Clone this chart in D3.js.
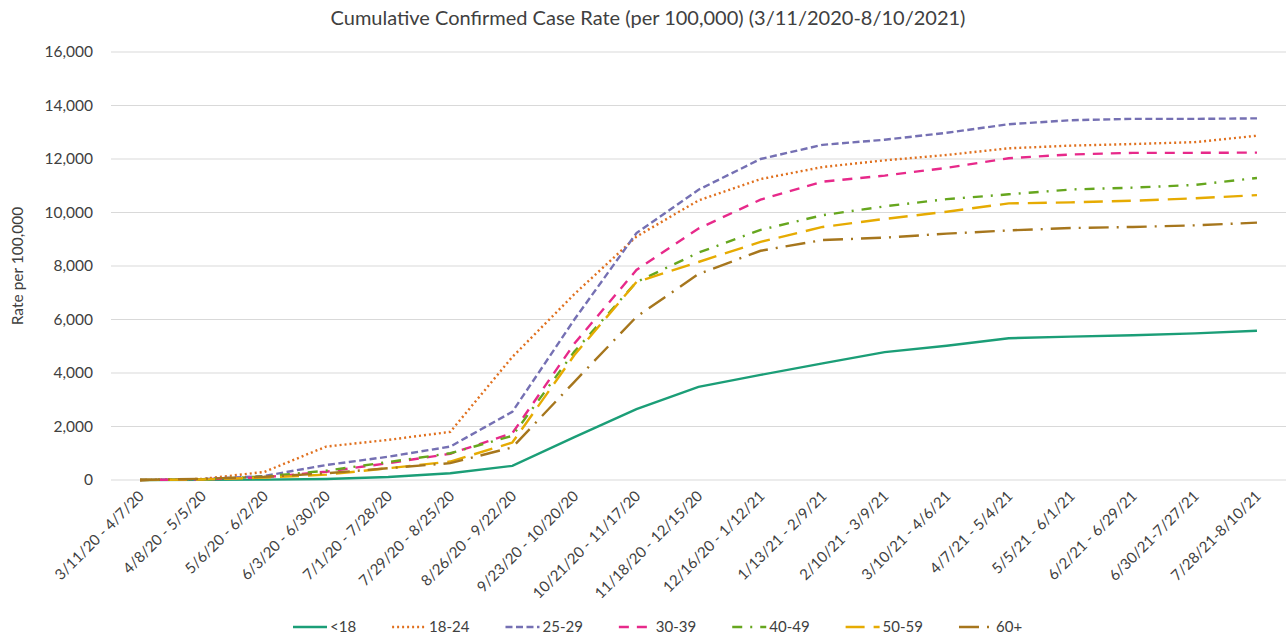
<!DOCTYPE html>
<html>
<head>
<meta charset="utf-8">
<script src="https://cdn.jsdelivr.net/npm/d3@7"></script>
<style>
  body { margin: 0; background: #fff; }
  text { font-family: Lato, "Open Sans", sans-serif; }
</style>
</head>
<body>
<div id="chart"></div>
<script>
// categories (4-week periods)
var periods = ["3/11/20 - 4/7/20", "4/8/20 - 5/5/20", "5/6/20 - 6/2/20", "6/3/20 - 6/30/20",
  "7/1/20 - 7/28/20", "7/29/20 - 8/25/20", "8/26/20 - 9/22/20", "9/23/20 - 10/20/20",
  "10/21/20 - 11/17/20", "11/18/20 - 12/15/20", "12/16/20 - 1/12/21", "1/13/21 - 2/9/21",
  "2/10/21 - 3/9/21", "3/10/21 - 4/6/21", "4/7/21 - 5/4/21", "5/5/21 - 6/1/21",
  "6/2/21 - 6/29/21", "6/30/21-7/27/21", "7/28/21-8/10/21"];

// cumulative rate per 100,000, one array per age group
var under18 = [0, 5, 15, 40, 110, 250, 530, 1600, 2650, 3480, 3930, 4360, 4780, 5020, 5300, 5360, 5410, 5480, 5580];
var age1824 = [0, 40, 300, 1250, 1500, 1800, 4600, 6950, 9100, 10450, 11250, 11700, 11950, 12150, 12400, 12500, 12560, 12630, 12870];
var age2529 = [0, 30, 150, 560, 870, 1250, 2550, 6000, 9230, 10850, 12000, 12530, 12720, 12980, 13300, 13450, 13500, 13500, 13520];
var age3039 = [0, 25, 100, 310, 630, 980, 1750, 5100, 7850, 9400, 10480, 11150, 11380, 11670, 12030, 12170, 12230, 12230, 12240];
var age4049 = [0, 25, 130, 350, 670, 1000, 1650, 4800, 7400, 8500, 9350, 9900, 10230, 10500, 10680, 10860, 10930, 11030, 11290];
var age5059 = [0, 20, 90, 200, 440, 690, 1400, 4670, 7400, 8150, 8900, 9460, 9760, 10030, 10340, 10380, 10440, 10530, 10650];
var age60 = [0, 45, 120, 250, 440, 630, 1220, 3670, 6100, 7700, 8570, 8970, 9060, 9210, 9330, 9420, 9460, 9520, 9620];

var groupNames = ["<18", "18-24", "25-29", "30-39", "40-49", "50-59", "60+"];
var yTicks = [0, 2000, 4000, 6000, 8000, 10000, 12000, 14000, 16000];

var series = [under18, age1824, age2529, age3039, age4049, age5059, age60].map(function(v, i) {
  return {name: groupNames[i], values: v};
});

var colors = ["#1b9e77", "#e0701e", "#7570b3", "#e7298a", "#66a61e", "#e6ab02", "#a6761d"];
var dashes = ["none", "2 3", "7 3.5", "10 8", "10 8 2 8", "19 9", "20 8 2 8"];

var W = 1286, H = 635;
var svg = d3.select("#chart").append("svg")
  .attr("width", W).attr("height", H);

var x = d3.scaleBand().domain(periods).range([109, 1288]);
var y = d3.scaleLinear().domain([0, 16000]).range([480, 52]);
var cx = function(p) { return x(p) + x.bandwidth() / 2; };

// title
svg.append("text")
  .attr("x", 648).attr("y", 25)
  .attr("text-anchor", "middle")
  .style("font-size", "20px").style("fill", "#404040")
  .text("Cumulative Confirmed Case Rate (per 100,000) (3/11/2020-8/10/2021)");

// gridlines
svg.append("g").selectAll("line")
  .data(yTicks).enter().append("line")
  .attr("x1", 111).attr("x2", 1286)
  .attr("y1", function(d) { return y(d); })
  .attr("y2", function(d) { return y(d); })
  .style("stroke", "#d9d9d9").style("stroke-width", 1);

// y axis labels
var yAxis = svg.append("g")
  .attr("transform", "translate(96,0)")
  .call(d3.axisLeft(y).tickValues(yTicks).tickSize(0).tickFormat(d3.format(",")));
yAxis.select(".domain").remove();
yAxis.selectAll("text")
  .style("font-size", "15.5px").style("fill", "#404040")
  .style("font-family", "Lato, sans-serif");

svg.append("text")
  .attr("transform", "translate(23,266) rotate(-90)")
  .attr("text-anchor", "middle")
  .style("font-size", "15.5px").style("fill", "#404040")
  .text("Rate per 100,000");

// x axis labels
var xAxis = svg.append("g")
  .attr("transform", "translate(0,480)")
  .call(d3.axisBottom(x).tickSize(0));
xAxis.select(".domain").remove();
xAxis.selectAll("text")
  .attr("text-anchor", "end")
  .attr("dy", null)
  .attr("y", 0)
  .attr("transform", "translate(5,17) rotate(-45)")
  .style("font-size", "15px").style("fill", "#404040")
  .style("font-family", "Lato, sans-serif");

// lines
var line = d3.line()
  .x(function(d, i) { return cx(periods[i]); })
  .y(function(d) { return y(d); });

svg.append("g").selectAll("path")
  .data(series).enter().append("path")
  .attr("d", function(d) { return line(d.values); })
  .style("fill", "none")
  .style("stroke", function(d, i) { return colors[i]; })
  .style("stroke-width", 2.4)
  .style("stroke-dasharray", function(d, i) { return dashes[i]; });

// legend
var legend = svg.append("g");
var lx = 293;
series.forEach(function(s, i) {
  legend.append("line")
    .attr("x1", lx).attr("x2", lx + 34)
    .attr("y1", 627).attr("y2", 627)
    .style("stroke", colors[i]).style("stroke-width", 2.4)
    .style("stroke-dasharray", dashes[i]);
  var t = legend.append("text")
    .attr("x", lx + 37).attr("y", 632)
    .style("font-size", "15px").style("fill", "#404040")
    .text(s.name);
  lx += 37 + t.node().getComputedTextLength() + 36;
});
</script>
</body>
</html>
